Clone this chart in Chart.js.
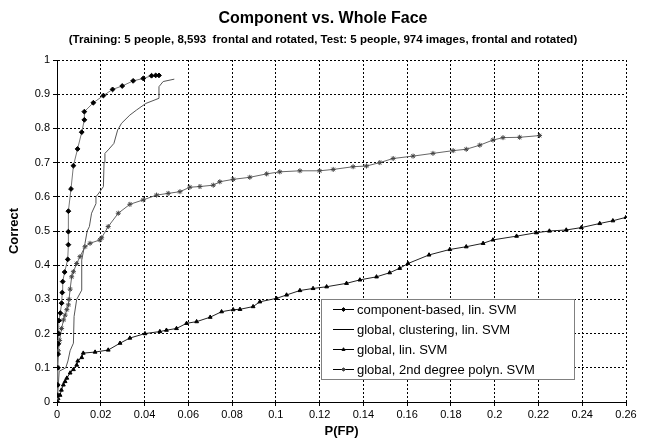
<!DOCTYPE html>
<html><head><meta charset="utf-8">
<script src="https://cdn.jsdelivr.net/npm/chart.js@4"></script>
<style>html,body{margin:0;padding:0;background:#fff}#w{width:647px;height:440px}</style>
</head><body><div id="w"><canvas id="c"></canvas></div>
<script>
const titleText = "Component vs. Whole Face";
const subtitleText = "(Training: 5 people, 8,593  frontal and rotated, Test: 5 people, 974 images, frontal and rotated)";
const xTitle = "P(FP)";
const yTitle = "Correct";
const xTickLabels = ["0","0.02","0.04","0.06","0.08","0.1","0.12","0.14","0.16","0.18","0.2","0.22","0.24","0.26"];
const yTickLabels = ["0","0.1","0.2","0.3","0.4","0.5","0.6","0.7","0.8","0.9","1"];
const seriesNames = ["component-based, lin. SVM","global, clustering, lin. SVM","global, lin. SVM","global, 2nd degree polyn. SVM"];

const componentX = [0,0.0002,0.0003,0.0004,0.0005,0.0006,0.0008,0.0009,0.0015,0.0021,0.0024,0.0026,0.0035,0.0049,0.0052,0.0052,0.0052,0.0064,0.0075,0.0094,0.0113,0.0125,0.0125,0.0166,0.0212,0.0254,0.0298,0.0348,0.0394,0.0432,0.0451,0.0466];
const componentY = [0,0.02,0.05,0.1,0.14,0.17,0.2,0.238,0.26,0.289,0.32,0.352,0.38,0.417,0.46,0.498,0.558,0.623,0.691,0.74,0.789,0.825,0.849,0.875,0.896,0.914,0.924,0.939,0.946,0.954,0.955,0.955];

const clusterX = [0,0.0003,0.0006,0.001,0.004,0.005,0.006,0.0075,0.0078,0.009,0.0113,0.0113,0.0128,0.0138,0.0148,0.0158,0.0178,0.0178,0.0196,0.0212,0.0215,0.0219,0.0234,0.026,0.0277,0.0295,0.0333,0.0364,0.0406,0.0466,0.0466,0.0485,0.0536];
const clusterY = [0,0.03,0.05,0.09,0.1,0.12,0.15,0.172,0.25,0.3,0.327,0.415,0.464,0.5,0.513,0.552,0.58,0.6,0.615,0.63,0.7,0.727,0.737,0.756,0.795,0.815,0.839,0.854,0.873,0.888,0.922,0.937,0.944];

const linX = [0,0.0005,0.0014,0.002,0.0029,0.0037,0.0045,0.006,0.0075,0.009,0.0095,0.0113,0.012,0.0174,0.0234,0.0288,0.0333,0.0402,0.047,0.05,0.0546,0.0592,0.0638,0.07,0.0752,0.0805,0.0836,0.0896,0.0927,0.1003,0.1049,0.111,0.117,0.1232,0.1323,0.1384,0.146,0.152,0.1566,0.1604,0.17,0.1795,0.187,0.1947,0.1992,0.21,0.219,0.225,0.2327,0.2396,0.248,0.254,0.26];
const linY = [0,0.01,0.02,0.035,0.05,0.06,0.07,0.085,0.095,0.108,0.12,0.13,0.143,0.146,0.152,0.172,0.187,0.2,0.206,0.21,0.215,0.23,0.235,0.248,0.264,0.27,0.271,0.279,0.293,0.303,0.313,0.326,0.332,0.337,0.347,0.357,0.366,0.378,0.391,0.405,0.43,0.446,0.454,0.464,0.474,0.485,0.495,0.5,0.503,0.51,0.522,0.53,0.54];

const polyX = [0,0.0002,0.0004,0.0006,0.0012,0.0021,0.003,0.0037,0.0045,0.0052,0.0055,0.006,0.0067,0.0075,0.009,0.0105,0.0128,0.0151,0.0196,0.0204,0.0234,0.028,0.0333,0.0394,0.0455,0.0508,0.0562,0.0607,0.0653,0.0714,0.0744,0.0805,0.0881,0.0958,0.1018,0.111,0.12,0.1262,0.1353,0.1414,0.1475,0.1536,0.1627,0.1718,0.181,0.187,0.1932,0.1992,0.2038,0.2114,0.2205];
const polyY = [0,0.05,0.1,0.15,0.18,0.215,0.24,0.254,0.27,0.284,0.3,0.33,0.366,0.381,0.405,0.425,0.454,0.464,0.474,0.48,0.513,0.552,0.578,0.591,0.605,0.61,0.615,0.628,0.63,0.634,0.644,0.651,0.657,0.667,0.673,0.676,0.676,0.68,0.688,0.69,0.7,0.712,0.719,0.727,0.735,0.739,0.751,0.766,0.773,0.774,0.779];

const pts = (xs, ys) => xs.map((x, i) => ({x, y: ys[i]}));
const FONT = "'Liberation Sans', Arial, sans-serif";

const textPlugin = {
  id: 'texts',
  afterDraw(chart) {
    const ctx = chart.ctx;
    ctx.save();
    ctx.fillStyle = '#000';
    ctx.textAlign = 'center';
    ctx.textBaseline = 'middle';
    ctx.font = 'bold 16px ' + FONT;
    ctx.fillText(titleText, 323, 19);
    ctx.font = 'bold 11.5px ' + FONT;
    ctx.fillText(subtitleText, 323, 40);
    // legend
    const bx = 321, by = 299, bw = 253, bh = 80;
    ctx.fillStyle = '#fff';
    ctx.fillRect(bx, by, bw, bh);
    ctx.strokeStyle = '#808080';
    ctx.lineWidth = 1;
    ctx.strokeRect(bx + 0.5, by + 0.5, bw, bh);
    chart.data.datasets.forEach((ds, i) => {
      const cy = 309 + i * 20;
      ctx.strokeStyle = ds.legendLine || ds.borderColor;
      ctx.lineWidth = 1;
      ctx.beginPath(); ctx.moveTo(333, cy + 0.5); ctx.lineTo(354, cy + 0.5); ctx.stroke();
      if (ds.pointRadius > 0) {
        ctx.fillStyle = ds.pointBackgroundColor;
        ctx.strokeStyle = ds.pointBorderColor;
        Chart.helpers.drawPoint(ctx, {pointStyle: ds.pointStyle, radius: ds.pointRadius * 0.8, borderWidth: 1}, 343.5, cy + 0.5);
      }
      ctx.fillStyle = '#000';
      ctx.font = '13px ' + FONT;
      ctx.textAlign = 'left';
      ctx.fillText(ds.label, 357, cy + 1);
    });
    ctx.restore();
  }
};

const chart = new Chart(document.getElementById('c'), {
  type: 'scatter',
  data: {
    datasets: [
      {label: seriesNames[0], data: pts(componentX, componentY), showLine: true, borderColor: '#777', borderWidth: 1,
       pointStyle: 'rectRot', pointRadius: 2.4, pointBackgroundColor: '#000', pointBorderColor: '#000', pointBorderWidth: 1, legendLine: '#000', order: 1},
      {label: seriesNames[1], data: pts(clusterX, clusterY), showLine: true, borderColor: '#555', borderWidth: 1,
       pointRadius: 0, legendLine: '#000', order: 2},
      {label: seriesNames[2], data: pts(linX, linY), showLine: true, borderColor: '#222', borderWidth: 1,
       pointStyle: 'triangle', pointRadius: 2.2, pointBackgroundColor: '#000', pointBorderColor: '#000', pointBorderWidth: 1, legendLine: '#000', order: 3},
      {label: seriesNames[3], data: pts(polyX, polyY), showLine: true, borderColor: '#666', borderWidth: 1,
       pointStyle: 'star', pointRadius: 2.5, pointBackgroundColor: '#444', pointBorderColor: '#444', pointBorderWidth: 1, legendLine: '#000', order: 4}
    ]
  },
  options: {
    responsive: true, maintainAspectRatio: false, animation: false,
    devicePixelRatio: 1,
    layout: {padding: {left: 0, right: 21, top: 60, bottom: 0}},
    plugins: {legend: {display: false}, tooltip: {enabled: false}},
    scales: {
      x: {
        type: 'linear', min: 0, max: 0.26,
        afterFit(s) { s.height = 38; },
        afterBuildTicks(s) { s.ticks = xTickLabels.map(v => ({value: parseFloat(v)})); },
        ticks: {callback: (v, i) => xTickLabels[i], color: '#000', font: {family: FONT, size: 11}, padding: 2, maxRotation: 0, autoSkip: false},
        grid: {color: '#000', lineWidth: 1, tickLength: 4, tickColor: '#000'},
        border: {color: '#000', width: 1, dash: [2, 2]},
        title: {display: true, text: xTitle, color: '#000', font: {family: FONT, size: 13, weight: 'bold'}, padding: {top: 0, bottom: 1}}
      },
      y: {
        type: 'linear', min: 0, max: 1,
        afterFit(s) { s.width = 57; },
        afterBuildTicks(s) { s.ticks = yTickLabels.map(v => ({value: parseFloat(v)})); },
        ticks: {callback: (v, i) => yTickLabels[i], color: '#000', font: {family: FONT, size: 11}, padding: 3},
        grid: {color: '#000', lineWidth: 1, tickLength: 4, tickColor: '#000'},
        border: {color: '#000', width: 1, dash: [2, 2]},
        title: {display: true, text: yTitle, color: '#000', font: {family: FONT, size: 13, weight: 'bold'}, padding: {top: 7, bottom: 0}}
      }
    }
  },
  plugins: [textPlugin]
});
</script></body></html>
